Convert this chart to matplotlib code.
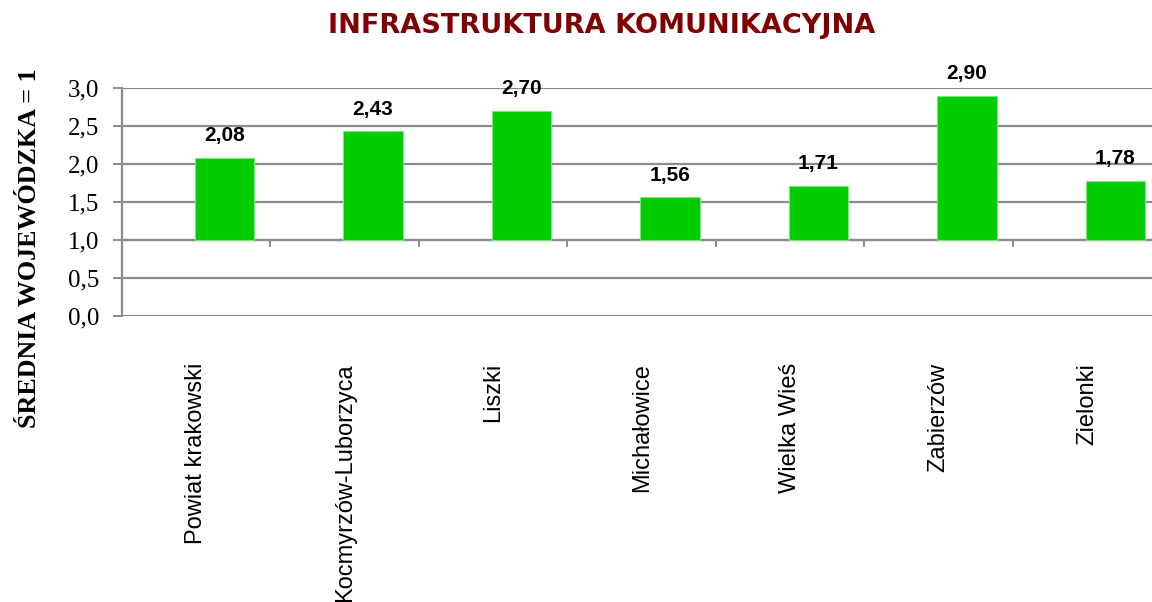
import matplotlib
matplotlib.use("Agg")
import matplotlib.pyplot as plt
import matplotlib.transforms as mtransforms
from matplotlib.ticker import FuncFormatter, MultipleLocator

# | data |---------------------------------------------------------------------------------------------------------------|
categories = ["Powiat krakowski", "Kocmyrzów-Luborzyca", "Liszki", "Michałowice",
              "Wielka Wieś", "Zabierzów", "Zielonki"]
values = [2.08, 2.43, 2.70, 1.56, 1.71, 2.90, 1.78]
baseline = 1.0

title = "INFRASTRUKTURA KOMUNIKACYJNA"
ylabel = "ŚREDNIA WOJEWÓDZKA = 1"

# | style |--------------------------------------------------------------------------------------------------------------|
bar_color = "#00CC00"
grid_color = "#8C8C8C"
title_color = "#800000"
bar_shift = 0.19   # bars sit right of the category centre (empty second series in the source)

fig = plt.figure(figsize=(11.52, 6.02), dpi=100, facecolor="white")
ax = fig.add_axes([0.1059, 0.4751, 0.9023, 0.3787])

x = list(range(len(categories)))
heights = [v - baseline for v in values]
ax.bar([i + bar_shift for i in x], heights, bottom=baseline, width=0.4, color=bar_color,
       edgecolor="#7FE57F", linewidth=0.8, zorder=3)

ax.set_xlim(-0.5, len(categories) - 0.5)
ax.set_ylim(0, 3.0)
ax.yaxis.set_major_locator(MultipleLocator(0.5))
ax.yaxis.set_major_formatter(FuncFormatter(lambda v, p: f"{v:.1f}".replace(".", ",")))
ax.grid(axis="y", color=grid_color, linewidth=1.6, zorder=0)
ax.set_axisbelow(True)

for s in ["top", "right"]:
    ax.spines[s].set_visible(False)
ax.spines["left"].set_color(grid_color)
ax.spines["left"].set_linewidth(1.6)
ax.spines["bottom"].set_position(("data", baseline))
ax.spines["bottom"].set_color(grid_color)
ax.spines["bottom"].set_linewidth(1.6)

ax.tick_params(axis="y", direction="out", length=6.5, width=1.4, color=grid_color,
               pad=10, labelsize=18)
for lab in ax.get_yticklabels():
    lab.set_fontfamily("Liberation Serif")

ax.set_xticks([i + 0.5 for i in x[:-1]])
ax.set_xticklabels([])
ax.tick_params(axis="x", direction="out", length=5, width=1.4, color=grid_color)

# category labels below the plot
trans = mtransforms.blended_transform_factory(ax.transData, fig.transFigure)
for i, name in enumerate(categories):
    ax.text(i, 1 - 363 / 602, name, transform=trans, rotation=90, ha="center", va="top",
            fontsize=17, fontfamily="Liberation Sans", clip_on=False)

# value labels
for i, v in enumerate(values):
    ax.annotate(f"{v:.2f}".replace(".", ","), (i + bar_shift, v), xytext=(0, 16),
                textcoords="offset points", ha="center", va="center", fontsize=15,
                fontweight="bold", fontfamily="Liberation Sans")

fig.text(0.5226, 1 - 26 / 602, title, ha="center", va="center", fontsize=19.5,
         fontweight="bold", color=title_color, fontfamily="DejaVu Sans")
fig.text(0.026, 1 - 248 / 602, ylabel, rotation=90, ha="center", va="center", fontsize=18.7,
         fontweight="bold", fontfamily="Liberation Serif")

fig.savefig("out.png", dpi=100)
